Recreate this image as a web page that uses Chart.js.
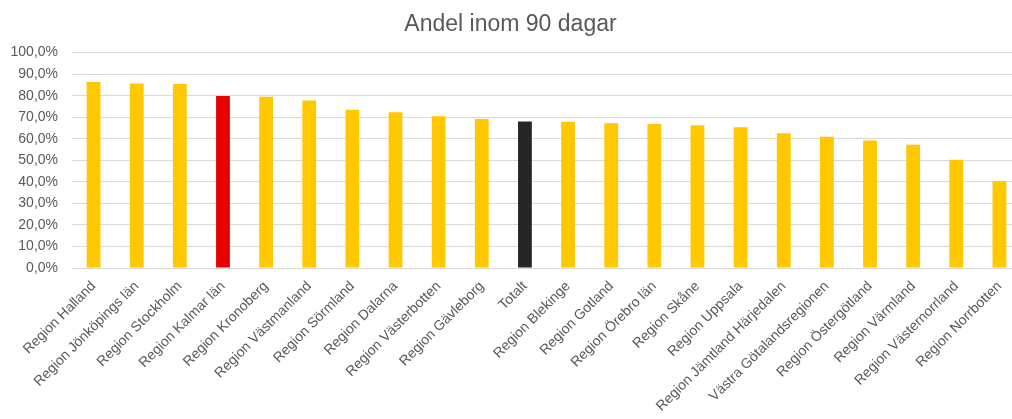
<!DOCTYPE html>
<html>
<head>
<meta charset="utf-8">
<script src="https://cdn.jsdelivr.net/npm/chart.js@4"></script>
<style>
  html, body { margin: 0; padding: 0; background: #fff; overflow: hidden; }
  #wrap { width: 1021px; height: 419px; }
</style>
</head>
<body>
<div id="wrap"><canvas id="andelChart"></canvas></div>
<script>
// regioner, sorterade efter andel
const regions = [
  "Region Halland", "Region Jönköpings län", "Region Stockholm", "Region Kalmar län",
  "Region Kronoberg", "Region Västmanland", "Region Sörmland", "Region Dalarna",
  "Region Västerbotten", "Region Gävleborg", "Totalt", "Region Blekinge",
  "Region Gotland", "Region Örebro län", "Region Skåne", "Region Uppsala",
  "Region Jämtland Härjedalen", "Västra Götalandsregionen", "Region Östergötland",
  "Region Värmland", "Region Västernorrland", "Region Norrbotten"
];

// andel inom 90 dagar (%)
const andel = [
  86.4, 85.7, 85.4, 79.8, 79.5, 77.8, 73.5, 72.3, 70.4, 69.2, 68.0, 67.9,
  67.2, 66.9, 66.3, 65.4, 62.6, 60.9, 59.2, 57.2, 50.3, 40.3
];

const yTicks = [0, 10, 20, 30, 40, 50, 60, 70, 80, 90, 100];

// färg per stapel: Kalmar röd, Totalt svart, övriga gula
const barColors = regions.map(r => {
  if (r === "Region Kalmar län") return "#E60000";
  if (r === "Totalt") return "#262626";
  return "#FFC800";
});

const textColor = "#595959";
const fontFamily = "Liberation Sans, Arial, sans-serif";

const ctx = document.getElementById("andelChart").getContext("2d");
new Chart(ctx, {
  type: "bar",
  data: {
    labels: regions,
    datasets: [{
      label: "Andel inom 90 dagar",
      data: andel,
      backgroundColor: barColors,
      categoryPercentage: 1,
      barPercentage: 0.32
    }]
  },
  options: {
    responsive: true,
    maintainAspectRatio: false,
    animation: false,
    layout: { padding: 0 },
    plugins: {
      legend: { display: false },
      tooltip: { enabled: false },
      title: {
        display: true,
        text: "Andel inom 90 dagar",
        color: textColor,
        font: { family: fontFamily, size: 23, weight: "normal" },
        padding: { top: 11, bottom: 14 }
      }
    },
    scales: {
      x: {
        grid: { display: false },
        border: { display: false },
        ticks: {
          color: textColor,
          font: { family: fontFamily, size: 14 },
          minRotation: 45,
          maxRotation: 45,
          autoSkip: false,
          padding: 2
        },
        afterFit: scale => { scale.height = 151; }
      },
      y: {
        min: 0,
        max: 100,
        afterBuildTicks: scale => { scale.ticks = yTicks.map(v => ({ value: v })); },
        grid: { color: "#D9D9D9", lineWidth: 1, drawTicks: false },
        border: { display: false },
        ticks: {
          color: textColor,
          font: { family: fontFamily, size: 14 },
          padding: 14,
          callback: v => v.toFixed(1).replace(".", ",") + "%"
        },
        afterFit: scale => { scale.width = 72; }
      }
    }
  }
});
</script>
</body>
</html>
